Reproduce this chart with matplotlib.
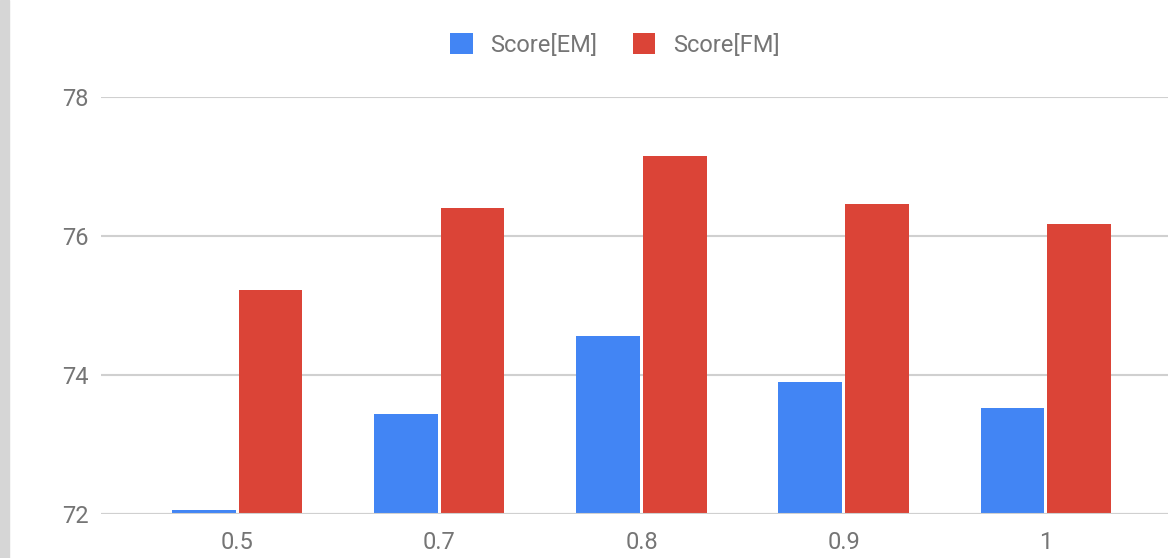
import numpy as np
import matplotlib.pyplot as plt
from matplotlib.patches import Rectangle

# data
categories = ["0.5", "0.7", "0.8", "0.9", "1"]
score_em = [72.06, 73.44, 74.56, 73.90, 73.53]
score_fm = [75.22, 76.40, 77.15, 76.46, 76.17]

blue = "#4285F4"
red = "#DB4437"
text_col = "#757575"
grid_col = "#d0d0d0"

plt.rcParams["font.family"] = ["Roboto", "DejaVu Sans"]

fig = plt.figure(figsize=(11.68, 5.58), dpi=100)
ax = fig.add_axes([101 / 1168, 44 / 558, 1 - 101 / 1168, 417 / 558])

x = np.arange(len(categories))
w = 0.315
off = 0.165
ax.bar(x - off, score_em, width=w, color=blue, label="Score[EM]", zorder=3)
ax.bar(x + off, score_fm, width=w, color=red, label="Score[FM]", zorder=3)

ax.set_ylim(72, 78)
ax.set_xlim(-0.673, 4.604)
ax.set_yticks([72, 74, 76, 78])
ax.set_xticks(x)
ax.set_xticklabels(categories)
ax.grid(axis="y", color=grid_col, linewidth=1.5, zorder=0)
ax.set_axisbelow(True)
for s in ax.spines.values():
    s.set_visible(False)
ax.tick_params(axis="both", length=0, labelsize=17, colors=text_col)
ax.tick_params(axis="x", pad=12)
ax.tick_params(axis="y", pad=9)
# bars start from the axis floor, so the baseline is drawn over them
ax.axhline(72, color=grid_col, linewidth=1.5, zorder=4)

fig.legend(loc="center", bbox_to_anchor=(615 / 1168, 1 - 45 / 558), ncol=2,
           frameon=False, fontsize=17, labelcolor=text_col,
           handlelength=0.95, handleheight=0.95, handletextpad=0.75,
           columnspacing=1.5)

# gray strip on the left edge of the screenshot
fig.patches.append(Rectangle((0, 0), 9 / 1168, 1, transform=fig.transFigure,
                             color="#d6d6d6", zorder=10))

fig.savefig("out.png", dpi=100)
